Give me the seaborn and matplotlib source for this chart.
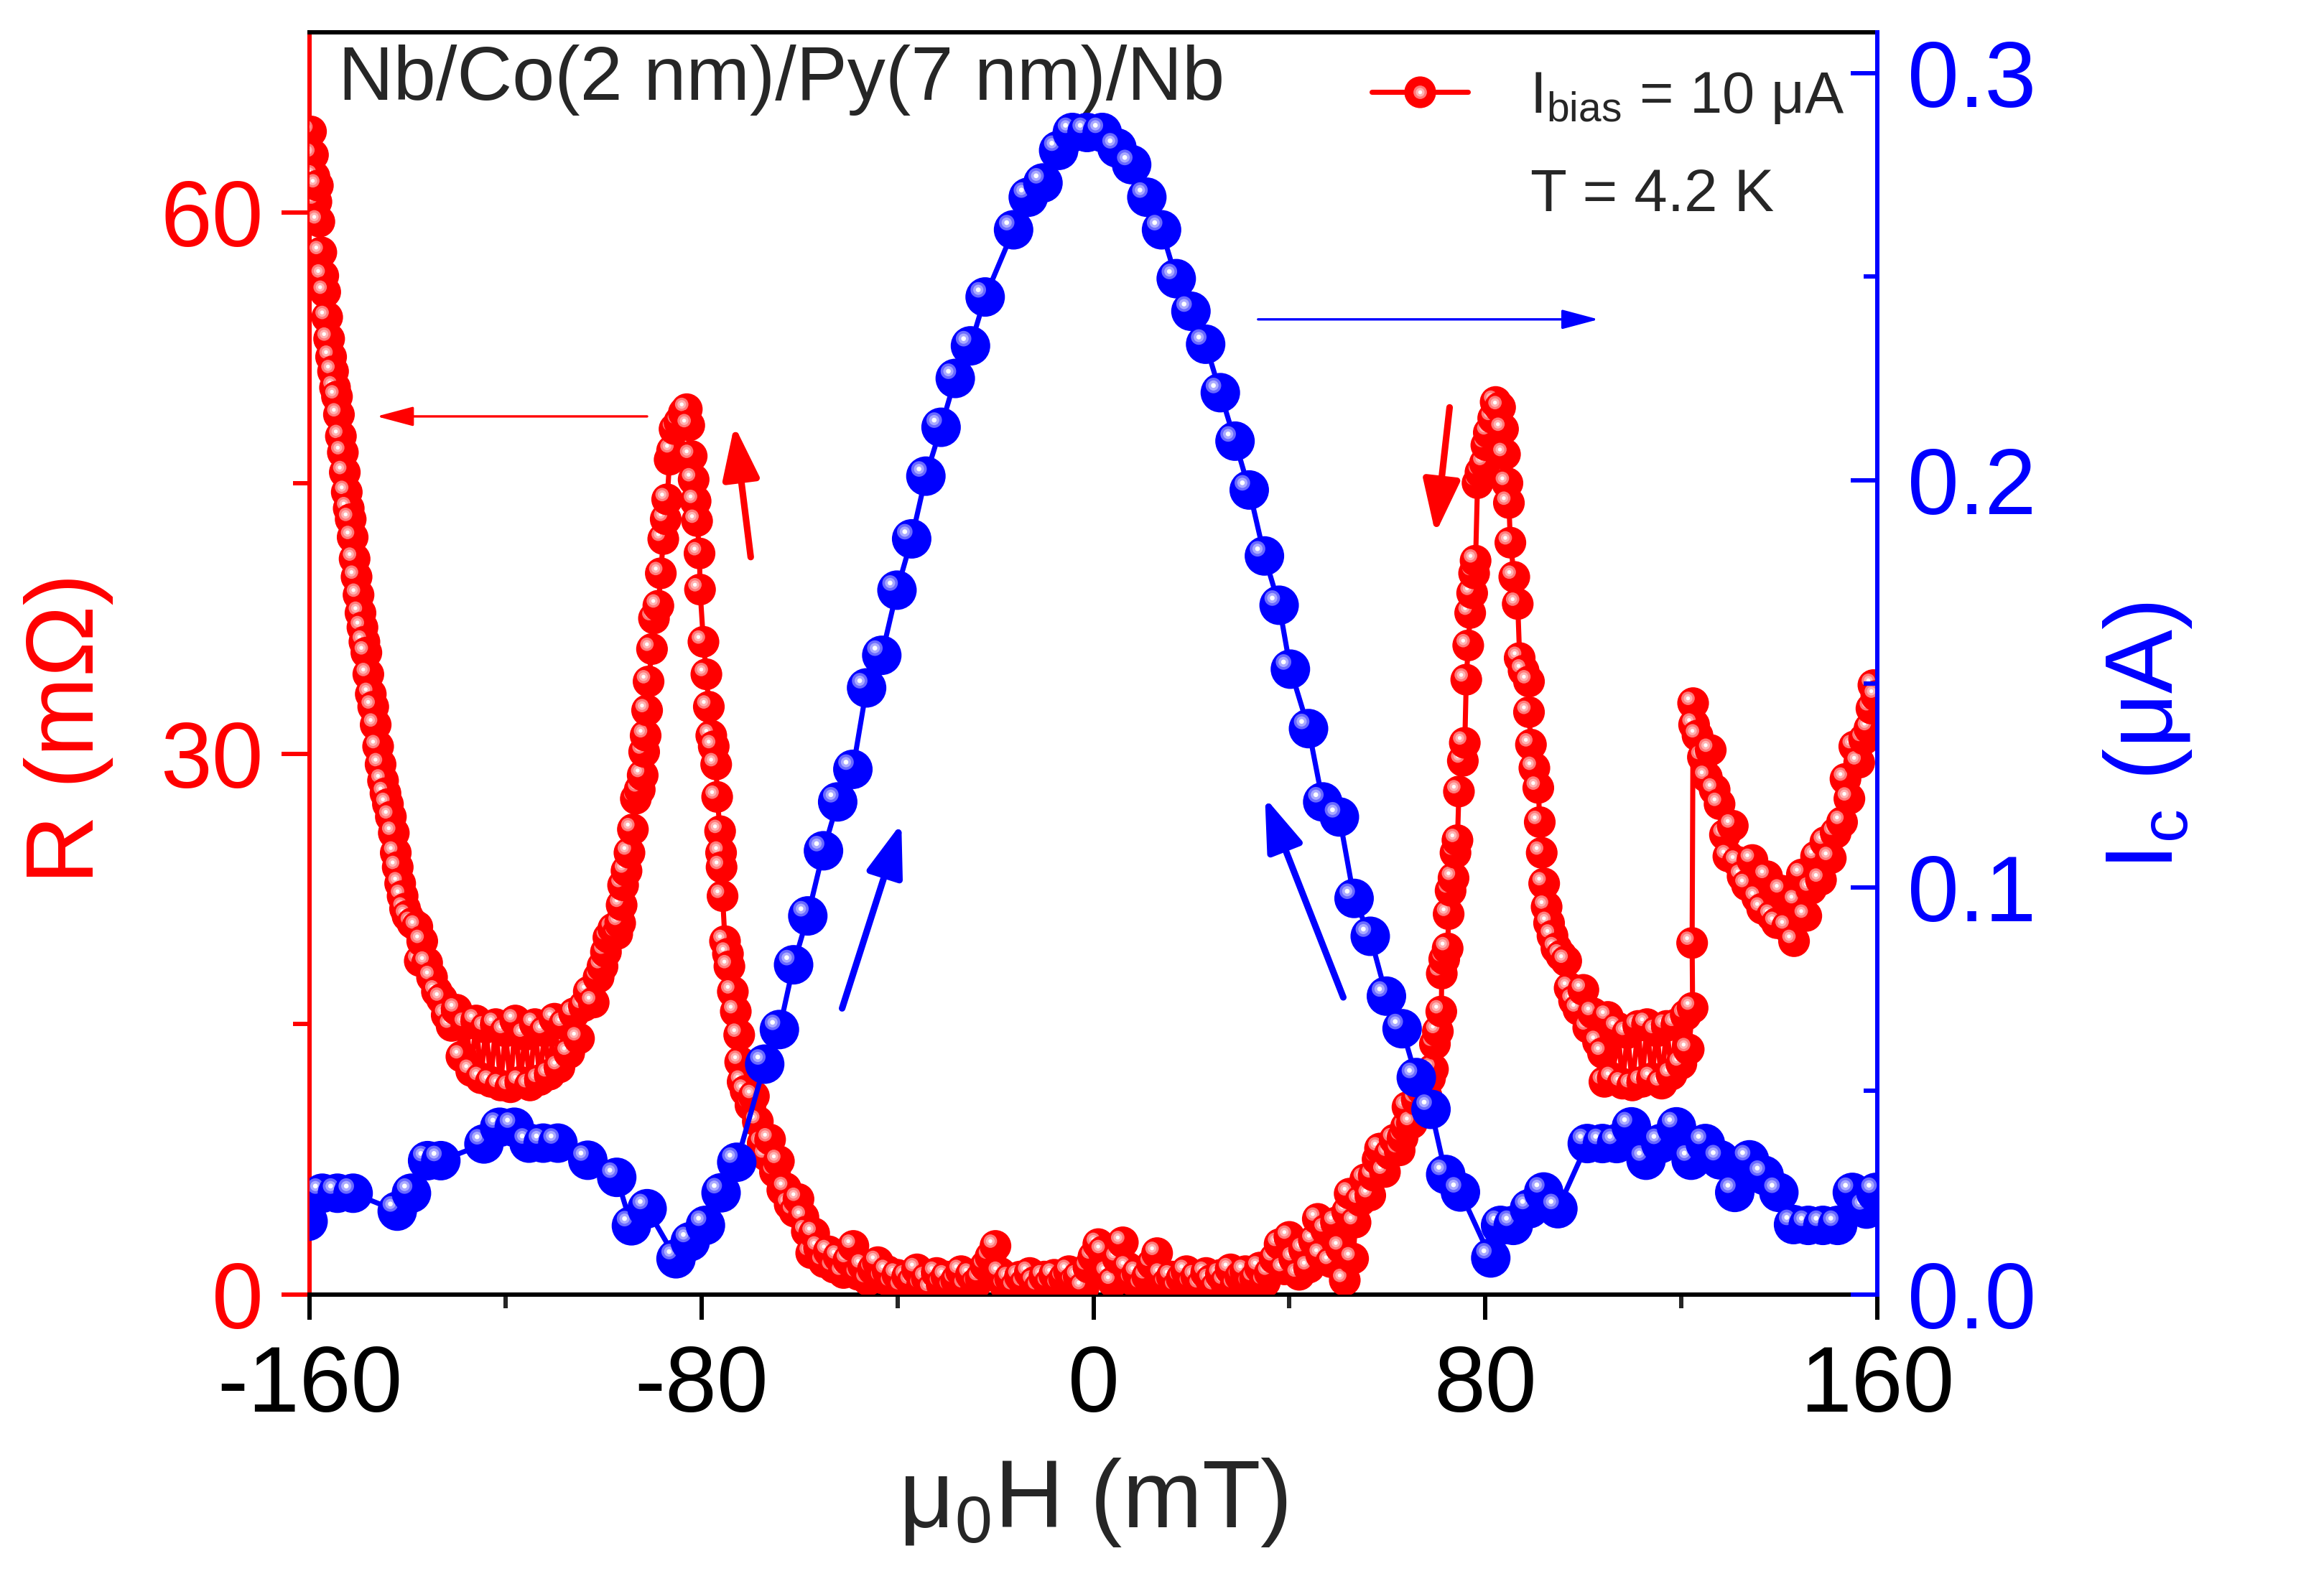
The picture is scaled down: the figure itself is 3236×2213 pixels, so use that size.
import numpy as np
import pandas as pd
import matplotlib
matplotlib.use("Agg")
import matplotlib.pyplot as plt
import seaborn as sns
from matplotlib.lines import Line2D
from matplotlib.legend_handler import HandlerTuple
from matplotlib.ticker import MultipleLocator

RED = '#ff0000'
BLUE = '#0000ff'

# R(mu0H), one field sweep cut in pieces
# columns: mu0H (mT), R (mOhm)
red_wall = np.array([
    [-160.0, 63.0], [-159.7, 64.5], [-159.3, 63.2], [-159.0, 62.0], [-158.6, 60.6],
    [-158.3, 61.5], [-158.0, 59.5], [-157.6, 57.8], [-157.2, 56.5], [-156.8, 55.6],
    [-156.4, 54.2], [-156.0, 53.0], [-155.6, 52.0], [-155.2, 51.2], [-154.8, 50.3],
    [-154.4, 49.8], [-154.0, 48.8], [-153.6, 47.6], [-153.2, 46.7], [-152.8, 45.6],
    [-152.4, 44.5], [-152.0, 43.6], [-151.6, 43.0], [-151.2, 42.0], [-150.8, 40.8],
    [-150.4, 39.8], [-150.0, 38.8], [-149.6, 37.8], [-149.2, 37.0], [-148.8, 36.2],
    [-148.4, 35.6], [-148.0, 34.4], [-147.5, 33.3], [-147.0, 32.6], [-146.5, 31.6],
    [-146.0, 30.4], [-145.5, 29.4], [-145.0, 28.5], [-144.5, 27.8], [-144.0, 27.2],
    [-143.4, 26.5], [-142.8, 25.6], [-142.4, 24.5], [-142.0, 23.7], [-141.5, 22.8],
    [-141.0, 22.1], [-140.5, 21.4]])

red_valley_left = np.array([
    [-140.0, 21.0], [-139.0, 20.6], [-138.0, 20.4], [-137.5, 18.5], [-137.0, 19.6],
    [-136.0, 18.4], [-135.0, 17.6], [-134.0, 16.8], [-133.0, 16.4], [-132.0, 15.5],
    [-131.0, 14.9], [-130.0, 15.8], [-129.0, 13.2], [-128.0, 15.0], [-127.0, 12.4],
    [-126.0, 15.2], [-125.0, 12.0], [-124.0, 14.8], [-123.0, 11.8], [-122.0, 15.0],
    [-121.0, 11.6], [-120.0, 14.6], [-119.0, 11.5], [-118.0, 15.2], [-117.0, 11.8],
    [-116.0, 14.4], [-115.0, 11.6], [-114.0, 15.0], [-113.0, 11.9], [-112.0, 14.6],
    [-111.0, 12.2], [-110.0, 15.3], [-109.0, 12.6], [-108.0, 15.0], [-107.0, 13.4],
    [-106.0, 15.6], [-105.0, 14.2], [-104.0, 16.0], [-103.0, 16.8], [-102.0, 16.2],
    [-101.0, 17.6]])

red_peak_left = np.array([
    [-100.2, 18.2], [-99.5, 19.0], [-99.0, 19.8], [-98.0, 20.3], [-97.2, 20.0],
    [-96.6, 20.6], [-96.3, 21.6], [-96.0, 22.7], [-95.3, 23.5], [-94.7, 24.5],
    [-94.0, 25.8], [-93.4, 27.5], [-92.6, 28.0], [-92.0, 28.8], [-91.7, 30.1],
    [-91.4, 31.0], [-91.1, 32.4], [-90.8, 34.0], [-90.1, 35.8], [-89.7, 37.5],
    [-88.8, 38.2], [-88.3, 40.0], [-87.8, 41.9], [-87.3, 43.0], [-87.0, 44.1],
    [-86.5, 46.3], [-86.0, 46.8], [-85.5, 48.0], [-84.5, 48.4], [-83.6, 48.9],
    [-83.0, 49.1], [-82.5, 48.2], [-82.0, 46.5], [-81.6, 45.2], [-81.2, 44.0],
    [-80.9, 42.9], [-80.4, 41.1], [-80.3, 39.1], [-79.6, 36.2], [-79.0, 34.4],
    [-78.5, 32.6], [-78.0, 31.0], [-77.5, 30.4], [-77.0, 29.4], [-76.8, 27.6],
    [-76.2, 25.7], [-76.0, 24.5], [-75.9, 23.7], [-75.7, 22.1], [-75.2, 19.6],
    [-74.6, 18.9], [-74.3, 18.2], [-73.6, 16.8], [-73.0, 15.7], [-72.3, 14.4],
    [-72.1, 12.9], [-71.6, 11.8]])

red_drop = np.array([
    [-71.0, 11.3], [-70.0, 10.5], [-69.3, 11.0], [-68.5, 9.6], [-67.5, 8.4],
    [-66.7, 7.7], [-66.0, 8.6], [-65.0, 6.8], [-64.2, 7.4], [-63.5, 5.8],
    [-62.8, 5.9], [-62.0, 5.0], [-61.0, 4.6], [-60.2, 5.3], [-59.2, 4.3],
    [-58.5, 3.5], [-57.6, 2.3], [-57.0, 3.4], [-56.0, 2.6], [-55.0, 1.8],
    [-54.0, 2.4], [-53.0, 1.5], [-52.0, 2.1], [-51.0, 1.2], [-50.0, 1.9],
    [-49.0, 2.7], [-48.0, 1.1], [-47.0, 1.6], [-46.0, 0.8], [-45.0, 1.4],
    [-44.0, 1.8]])

red_flat = np.array([
    [-43, 0.9], [-42, 1.3], [-41, 0.6], [-40, 1.1], [-39, 0.4], [-38, 1.0],
    [-37, 0.7], [-36, 1.4], [-35, 0.5], [-34, 0.9], [-33, 0.3], [-32, 1.2],
    [-31, 0.6], [-30, 1.0], [-29, 0.4], [-28, 0.8], [-27, 1.3], [-26, 0.5],
    [-25, 1.1], [-24, 0.6], [-23, 0.9], [-22, 1.6], [-21, 2.1], [-20, 2.7],
    [-19, 1.2], [-18, 0.5], [-17, 0.9], [-16, 0.4], [-15, 1.0], [-14, 0.6],
    [-13, 1.2], [-12, 0.7], [-11, 0.4], [-10, 1.0], [-9, 0.6], [-8, 1.1],
    [-7, 0.5], [-6, 0.9], [-5, 1.3], [-4, 0.7], [-3, 1.0], [-2, 0.4],
    [-1, 1.5], [0, 2.1], [1, 2.8], [2, 2.4], [3, 1.2], [4, 0.7],
    [5, 2.0], [6, 2.9], [7, 1.5], [8, 0.8], [9, 1.2], [10, 0.5],
    [11, 1.0], [12, 1.7], [13, 2.3], [14, 1.1], [15, 0.6], [16, 1.0],
    [17, 0.4], [18, 0.9], [19, 1.3], [20, 0.6], [21, 1.0], [22, 0.5],
    [23, 1.2], [24, 0.8], [25, 0.4], [26, 1.1], [27, 0.7], [28, 1.4],
    [29, 0.5], [30, 1.0], [31, 1.3], [32, 0.6], [33, 0.9], [34, 1.5],
    [35, 0.7], [36, 1.2], [37, 2.0], [38, 2.8], [39, 1.4], [40, 3.2],
    [41, 2.0], [42, 1.1], [43, 2.5]])

red_rise = np.array([
    [44.0, 1.5], [45.0, 3.0], [45.8, 4.2], [46.5, 2.2], [47.5, 3.6],
    [48.5, 1.8], [49.5, 4.0], [50.5, 2.6], [51.3, 0.8], [51.8, 4.6],
    [52.3, 5.6], [53.0, 2.0], [53.5, 4.0], [54.5, 5.2], [55.5, 6.4],
    [56.5, 5.5], [57.2, 6.6], [58.0, 7.5], [58.5, 8.1], [59.5, 6.8],
    [60.5, 7.8], [61.5, 8.6], [62.5, 8.0], [63.1, 8.7], [63.8, 9.3],
    [64.1, 10.4], [65.0, 9.5], [66.0, 10.8], [67.0, 11.4], [68.0, 11.0],
    [68.7, 12.0], [69.3, 12.5], [69.7, 13.9], [70.3, 14.6], [71.0, 15.7],
    [71.1, 17.8], [71.6, 18.6], [72.3, 19.2], [72.5, 21.1], [72.9, 22.4],
    [73.5, 23.1], [73.9, 24.5], [74.3, 25.2], [74.6, 27.9], [75.4, 29.6],
    [75.8, 30.6], [76.1, 34.1], [76.5, 36.0], [76.9, 37.8], [77.3, 38.9],
    [77.7, 40.0], [78.0, 40.7]])

red_peak_right = np.array([
    [78.4, 45.0], [79.0, 45.6], [79.9, 46.1], [80.2, 47.1], [80.7, 47.8],
    [81.6, 48.6], [82.1, 49.5], [83.0, 49.2], [83.6, 48.0], [84.0, 46.6],
    [84.5, 45.0], [84.8, 43.9], [85.1, 41.7], [85.9, 39.8], [86.6, 38.3],
    [87.0, 35.3], [87.8, 34.6], [88.9, 34.0], [88.9, 32.3], [89.3, 30.5],
    [90.0, 29.2], [90.8, 28.1], [91.1, 26.2], [91.5, 24.5], [92.0, 22.8],
    [92.5, 21.5], [93.0, 20.6], [93.7, 19.9]])

red_valley_right = np.array([
    [94.5, 19.2], [95.5, 18.8], [96.5, 18.5], [97.2, 17.0], [98.1, 16.3],
    [99.0, 15.8], [100.0, 16.9], [101.0, 14.8], [102.0, 15.6], [103.0, 14.0],
    [104.0, 13.4], [104.3, 11.8], [105.0, 15.4], [106.0, 12.0], [107.0, 14.8],
    [108.0, 11.7], [109.0, 14.5], [110.0, 11.6], [111.2, 14.9], [112.0, 11.8],
    [113.0, 15.0], [114.0, 12.0], [115.0, 14.6], [116.0, 11.7], [117.0, 14.9],
    [118.0, 12.2], [119.0, 15.0], [120.0, 12.8], [120.9, 15.5], [121.5, 13.6],
    [122.3, 15.9], [122.2, 19.5], [122.4, 32.8]])

red_tail = np.array([
    [122.6, 31.6], [123.3, 31.0], [124.4, 29.8], [125.2, 28.7], [126.0, 30.2],
    [126.8, 28.0], [127.8, 27.2], [128.9, 25.5], [129.6, 24.3], [130.5, 26.0],
    [131.5, 24.0], [132.5, 23.2], [133.4, 22.7], [134.5, 24.1], [135.5, 22.0],
    [136.5, 21.4], [137.5, 23.2], [138.5, 21.0], [139.5, 20.6], [140.5, 22.4],
    [141.6, 20.4], [143.0, 19.6], [143.5, 21.8], [144.6, 23.3], [145.5, 21.0],
    [146.5, 22.5], [147.5, 24.3], [148.5, 23.0], [149.4, 25.1], [150.5, 24.2],
    [151.5, 25.6], [152.8, 26.2], [153.5, 28.6], [154.3, 27.5], [155.3, 30.4],
    [156.3, 29.5], [157.3, 30.8], [158.4, 31.4], [158.8, 32.5], [159.2, 33.8],
    [159.8, 33.2]])

# Ic(mu0H), columns: mu0H (mT), Ic (uA)
blue = np.array([
    [-160.3, 0.0180], [-157.4, 0.0249], [-154.3, 0.0249], [-151.1, 0.0249],
    [-142.1, 0.0205], [-139.2, 0.0249], [-135.9, 0.0329], [-133.2, 0.0329],
    [-124.4, 0.0370], [-121.2, 0.0411], [-118.2, 0.0411], [-115.2, 0.0372],
    [-112.3, 0.0372], [-109.3, 0.0372], [-103.2, 0.0330], [-97.3, 0.0288],
    [-94.3, 0.0169], [-91.1, 0.0211], [-85.2, 0.0088], [-82.3, 0.0130],
    [-79.2, 0.0170], [-76.0, 0.0250], [-72.8, 0.0325], [-67.1, 0.0566],
    [-64.1, 0.0651], [-61.2, 0.0810], [-58.3, 0.0930], [-55.1, 0.1090],
    [-52.2, 0.1210], [-49.1, 0.1290], [-46.3, 0.1490], [-43.2, 0.1570],
    [-40.1, 0.1730], [-37.1, 0.1856], [-34.2, 0.2010], [-31.1, 0.2130],
    [-28.2, 0.2250], [-25.1, 0.2330], [-22.1, 0.2450], [-16.3, 0.2615],
    [-13.3, 0.2695], [-10.3, 0.2730], [-7.1, 0.2810], [-4.3, 0.2854],
    [-1.3, 0.2854], [1.8, 0.2854], [4.8, 0.2816], [7.8, 0.2775],
    [10.9, 0.2695], [13.9, 0.2615], [16.9, 0.2495], [19.9, 0.2415],
    [22.9, 0.2334], [25.9, 0.2215], [28.9, 0.2096], [31.8, 0.1976],
    [34.9, 0.1814], [37.9, 0.1693], [40.2, 0.1536], [43.9, 0.1390],
    [46.8, 0.1210], [50.2, 0.1173], [53.2, 0.0973], [56.5, 0.0880],
    [59.8, 0.0733], [63.0, 0.0653], [65.9, 0.0533], [68.9, 0.0455],
    [71.9, 0.0295], [74.9, 0.0252], [81.1, 0.0090], [83.1, 0.0170],
    [85.7, 0.0170], [89.0, 0.0211], [91.9, 0.0252], [94.8, 0.0211],
    [100.8, 0.0371], [103.9, 0.0371], [106.8, 0.0371], [109.8, 0.0412],
    [112.8, 0.0330], [115.8, 0.0371], [119.0, 0.0412], [122.0, 0.0330],
    [124.9, 0.0371], [127.9, 0.0331], [130.9, 0.0251], [133.9, 0.0331],
    [136.9, 0.0293], [139.9, 0.0251], [142.9, 0.0172], [145.9, 0.0170],
    [148.9, 0.0170], [151.9, 0.0170], [154.9, 0.0251], [157.8, 0.0210],
    [159.7, 0.0251]])

red = np.vstack([red_wall, red_valley_left, red_peak_left, red_drop, red_flat,
                 red_rise, red_peak_right, red_valley_right, red_tail])

# ball look: body, then light spots shifted up-left (points)
red_ball = {'body': (RED, 10.6), 'ring': ('#ff7a7a', 4.5), 'inner': ('#ffb4b4', 2.9),
            'dot': ('#ffffff', 1.3)}
blue_ball = {'body': (BLUE, 13.2), 'ring': ('#6a6aff', 5.2), 'inner': ('#aaaaff', 3.4),
             'dot': ('#ffffff', 1.6)}

sns.set_style('ticks')
plt.rcParams['font.family'] = ['Liberation Sans', 'DejaVu Sans']
plt.rcParams['mathtext.fontset'] = 'custom'
plt.rcParams['mathtext.rm'] = 'Liberation Sans'
plt.rcParams['mathtext.it'] = 'Liberation Sans:italic'
plt.rcParams['axes.unicode_minus'] = False

fig = plt.figure(figsize=(3237 / 300, 2213 / 300), dpi=300)
ax = fig.add_axes([0.13315, 0.18527, 0.6744, 0.7944])
ax2 = ax.twinx()

ax.set_xlim(-160, 160)
ax.set_ylim(0, 70)
ax2.set_ylim(0, 0.31)


def balls(axis, x, y, style, dx, dy, lw):
    color = style['body'][0]
    sns.lineplot(x=x, y=y, sort=False, estimator=None, color=color,
                 linewidth=lw, ax=axis, zorder=2)
    # spot shift in data units, from points
    bb = axis.get_window_extent()
    x0, x1 = axis.get_xlim()
    y0, y1 = axis.get_ylim()
    k = fig.dpi / 72
    sx = dx * k * (x1 - x0) / bb.width
    sy = dy * k * (y1 - y0) / bb.height
    parts = []
    for j, name in enumerate(style):
        on = 0 if j == 0 else 1
        parts.append(pd.DataFrame({'x': x + on * sx, 'y': y + on * sy, 'layer': name,
                                   'pt': np.arange(len(x)), 'j': j}))
    df = pd.concat(parts).sort_values(['pt', 'j'], kind='stable')
    sns.scatterplot(data=df, x='x', y='y', hue='layer', size='layer',
                    palette={n: v[0] for n, v in style.items()},
                    sizes={n: v[1] ** 2 for n, v in style.items()},
                    linewidth=0, legend=False, ax=axis, zorder=3)


balls(ax, red[:, 0], red[:, 1], red_ball, -1.7, 1.6, 1.7)
balls(ax2, blue[:, 0], blue[:, 1], blue_ball, -2.3, 2.4, 1.7)

ax.set_xlim(-160, 160)
ax.set_ylim(0, 70)
ax2.set_ylim(0, 0.31)
ax.xaxis.set_major_locator(MultipleLocator(80))
ax.xaxis.set_minor_locator(MultipleLocator(40))
ax.yaxis.set_major_locator(MultipleLocator(30))
ax.yaxis.set_minor_locator(MultipleLocator(15))
ax2.yaxis.set_major_locator(MultipleLocator(0.1))
ax2.yaxis.set_minor_locator(MultipleLocator(0.05))

for s in ['top', 'bottom', 'left', 'right']:
    ax.spines[s].set_linewidth(1.45)
    ax2.spines[s].set_linewidth(1.45)
ax.spines['left'].set_color(RED)
ax.spines['right'].set_visible(False)
ax.spines['top'].set_color('black')
ax.spines['bottom'].set_color('black')
ax2.spines['left'].set_visible(False)
ax2.spines['top'].set_visible(False)
ax2.spines['bottom'].set_visible(False)
ax2.spines['right'].set_color(BLUE)

ax.tick_params(axis='x', which='major', direction='out', length=8.5, width=1.45,
               labelsize=31, pad=8, top=False, colors='black')
ax.tick_params(axis='x', which='minor', direction='out', length=4.5, width=1.45, top=False)
ax.tick_params(axis='y', which='major', direction='out', length=9.4, width=1.45,
               labelsize=31, pad=6, right=False, colors=RED)
ax.tick_params(axis='y', which='minor', direction='out', length=5.5, width=1.45,
               right=False, colors=RED)
ax2.tick_params(axis='y', which='major', direction='in', length=8.8, width=1.45,
                labelsize=31, pad=10, left=False, colors=BLUE)
ax2.tick_params(axis='y', which='minor', direction='in', length=4.6, width=1.45,
                left=False, colors=BLUE)

ax.set_xlabel('μ$_{\\rm 0}$H (mT)', fontsize=32)
ax.set_ylabel('R (mΩ)', fontsize=32, color=RED)
ax2.set_ylabel('I$_{\\rm c}$ (μA)', fontsize=32, color=BLUE)
ax.xaxis.set_label_coords(0.5, -0.128)
ax.yaxis.set_label_coords(-0.125, 0.4485)
ax2.yaxis.set_label_coords(1.143, 0.4425)

ax.text(0.0183, 0.9465, 'Nb/Co(2 nm)/Py(7 nm)/Nb', transform=ax.transAxes,
        fontsize=25.5, va='baseline', ha='left')

# legend: red line with one ball, the temperature written below it
red_handle = Line2D([], [], color=RED, lw=1.7, marker='o', ms=red_ball['body'][1], mew=0)
spots = [Line2D([], [], ls='none', marker='o', ms=v[1], mfc=v[0], mew=0)
         for n, v in red_ball.items() if n != 'body']
ax2.legend([tuple([red_handle] + spots)], ['I$_{\\rm bias}$ = 10 μA'],
           handler_map={tuple: HandlerTuple(ndivide=1, pad=0)},
           loc='center left', bbox_to_anchor=(0.6775, 0.948), frameon=False,
           fontsize=19.5, handlelength=1.65, handletextpad=1.06,
           borderpad=0, borderaxespad=0)
ax2.text(0.7787, 0.8584, 'T = 4.2 K', transform=ax.transAxes,
         fontsize=20, va='baseline', ha='left')

# guide arrows
thin = dict(arrowstyle='-|>,head_length=10.5,head_width=2.8', mutation_scale=1,
            lw=0.8, shrinkA=0, shrinkB=0)
ax.annotate('', xy=(-146.3, 48.7), xytext=(-91.1, 48.7), arrowprops=dict(thin, color=RED))
ax2.annotate('', xy=(103.1, 0.2395), xytext=(33.6, 0.2395), arrowprops=dict(thin, color=BLUE))
thick = dict(arrowstyle='-|>,head_length=15,head_width=5.2', mutation_scale=1,
             lw=2.2, shrinkA=0, shrinkB=0, capstyle='round')
ax.annotate('', xy=(-73.3, 48.2), xytext=(-69.95, 40.9), arrowprops=dict(thick, color=RED))
ax.annotate('', xy=(69.8, 42.2), xytext=(72.7, 49.2), arrowprops=dict(thick, color=RED))
ax2.annotate('', xy=(-39.2, 0.1158), xytext=(-51.3, 0.0703), arrowprops=dict(thick, color=BLUE))
ax2.annotate('', xy=(35.0, 0.1221), xytext=(51.0, 0.0730), arrowprops=dict(thick, color=BLUE))

fig.savefig('out.png', dpi=300)
